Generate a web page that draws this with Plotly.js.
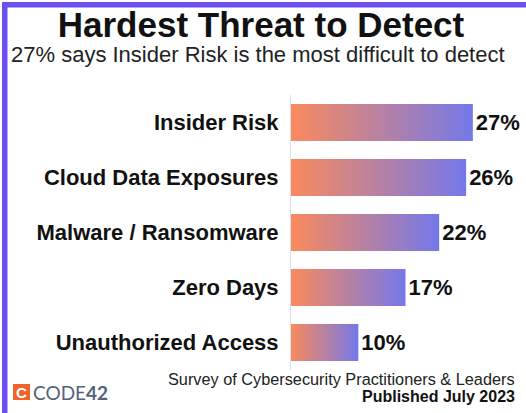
<!DOCTYPE html>
<html><head><meta charset="utf-8">
<script src="https://cdn.plot.ly/plotly-3.0.1.min.js"></script>
<style>html,body{margin:0;padding:0;background:#fff}#chart{width:526px;height:413px}</style>
</head><body><div id="chart"></div>
<script>
const categories = ['Insider Risk', 'Cloud Data Exposures', 'Malware / Ransomware', 'Zero Days', 'Unauthorized Access'];
const values = [27, 26, 22, 17, 10];
const valueLabels = values.map(v => v + '%');
const titleText = 'Hardest Threat to Detect';
const subtitleText = '27% says Insider Risk is the most difficult to detect';
const sourceLine1 = 'Survey of Cybersecurity Practitioners &amp; Leaders';
const sourceLine2 = 'Published July 2023';
const logoText = 'CODE<b>42</b>';

const W = 526, H = 413, M = {l: 291, r: 6, t: 95, b: 43};
const pw = W - M.l - M.r, ph = H - M.t - M.b;
const px = x => (x - M.l) / pw;
const py = y => (H - M.b - y) / ph;
const FONT = 'Liberation Sans, Arial, sans-serif';
const PURPLE = '#6b4ff2';

const data = [{
  type: 'bar', orientation: 'h',
  y: categories, x: values,
  text: valueLabels, textposition: 'outside', constraintext: 'none', cliponaxis: false,
  textfont: {family: FONT, size: 22, weight: 'bold', color: '#111'},
  marker: {color: '#b47ea2', line: {width: 0}},
  hoverinfo: 'none'
}];

const layout = {
  width: W, height: H,
  margin: M,
  paper_bgcolor: '#fff', plot_bgcolor: '#fff',
  showlegend: false,
  bargap: 0.33,
  title: {text: '<b>' + titleText + '</b>', x: 261 / W, xanchor: 'center', y: 1 - 25 / H, yanchor: 'middle',
          font: {family: FONT, size: 35, color: '#111'}},
  xaxis: {range: [0, 34], visible: false, fixedrange: true},
  yaxis: {type: 'category', autorange: 'reversed', showline: true, linecolor: '#dcdff0', linewidth: 1,
          ticks: '', ticklabelstandoff: 7, showgrid: false, zeroline: false,
          tickfont: {family: FONT, size: 22, weight: 'bold', color: '#111'}},
  shapes: [
    {type: 'rect', xref: 'paper', yref: 'paper', x0: px(2), x1: px(7.5), y0: py(413), y1: py(2), fillcolor: PURPLE, line: {width: 0}, layer: 'above'},
    {type: 'rect', xref: 'paper', yref: 'paper', x0: px(2), x1: px(526), y0: py(7.5), y1: py(2), fillcolor: PURPLE, line: {width: 0}, layer: 'above'},
    {type: 'rect', xref: 'paper', yref: 'paper', x0: px(13), x1: px(30), y0: py(400), y1: py(384), fillcolor: '#f2622a', line: {width: 0}, layer: 'above'}
  ],
  annotations: [
    {text: subtitleText, xref: 'paper', yref: 'paper', x: px(258), y: py(55), xanchor: 'center', yanchor: 'middle', showarrow: false,
     font: {family: FONT, size: 22, color: '#222'}},
    {text: sourceLine1, xref: 'paper', yref: 'paper', x: px(517), y: py(379), xanchor: 'right', yanchor: 'middle', showarrow: false,
     font: {family: FONT, size: 16.3, color: '#222'}},
    {text: '<b>' + sourceLine2 + '</b>', xref: 'paper', yref: 'paper', x: px(517), y: py(396), xanchor: 'right', yanchor: 'middle', showarrow: false,
     font: {family: FONT, size: 16, color: '#111'}},
    {text: '<b>C</b>', xref: 'paper', yref: 'paper', x: px(21.5), y: py(392), xanchor: 'center', yanchor: 'middle', showarrow: false,
     font: {family: FONT, size: 15, color: '#fff'}},
    {text: logoText, xref: 'paper', yref: 'paper', x: px(31), y: py(392), xanchor: 'left', yanchor: 'middle', showarrow: false,
     font: {family: 'Lato, ' + FONT, size: 19, color: '#55627a'}}
  ]
};

function applyGradient(gd) {
  const ns = 'http://www.w3.org/2000/svg';
  const svg = gd.querySelector('svg.main-svg');
  let defs = svg.querySelector('defs');
  if (!defs) { defs = document.createElementNS(ns, 'defs'); svg.insertBefore(defs, svg.firstChild); }
  if (!svg.querySelector('#barGrad')) {
    const lg = document.createElementNS(ns, 'linearGradient');
    lg.setAttribute('id', 'barGrad');
    lg.setAttribute('x1', '0'); lg.setAttribute('y1', '0'); lg.setAttribute('x2', '1'); lg.setAttribute('y2', '0');
    [['0%', '#fa8a5c'], ['100%', '#7478ea']].forEach(([o, c]) => {
      const s = document.createElementNS(ns, 'stop');
      s.setAttribute('offset', o); s.setAttribute('stop-color', c);
      lg.appendChild(s);
    });
    defs.appendChild(lg);
  }
  gd.querySelectorAll('.barlayer .point path').forEach(p => { p.style.fill = 'url(#barGrad)'; });
}

Plotly.newPlot('chart', data, layout, {staticPlot: true, displayModeBar: false}).then(applyGradient);
</script>
</body></html>
